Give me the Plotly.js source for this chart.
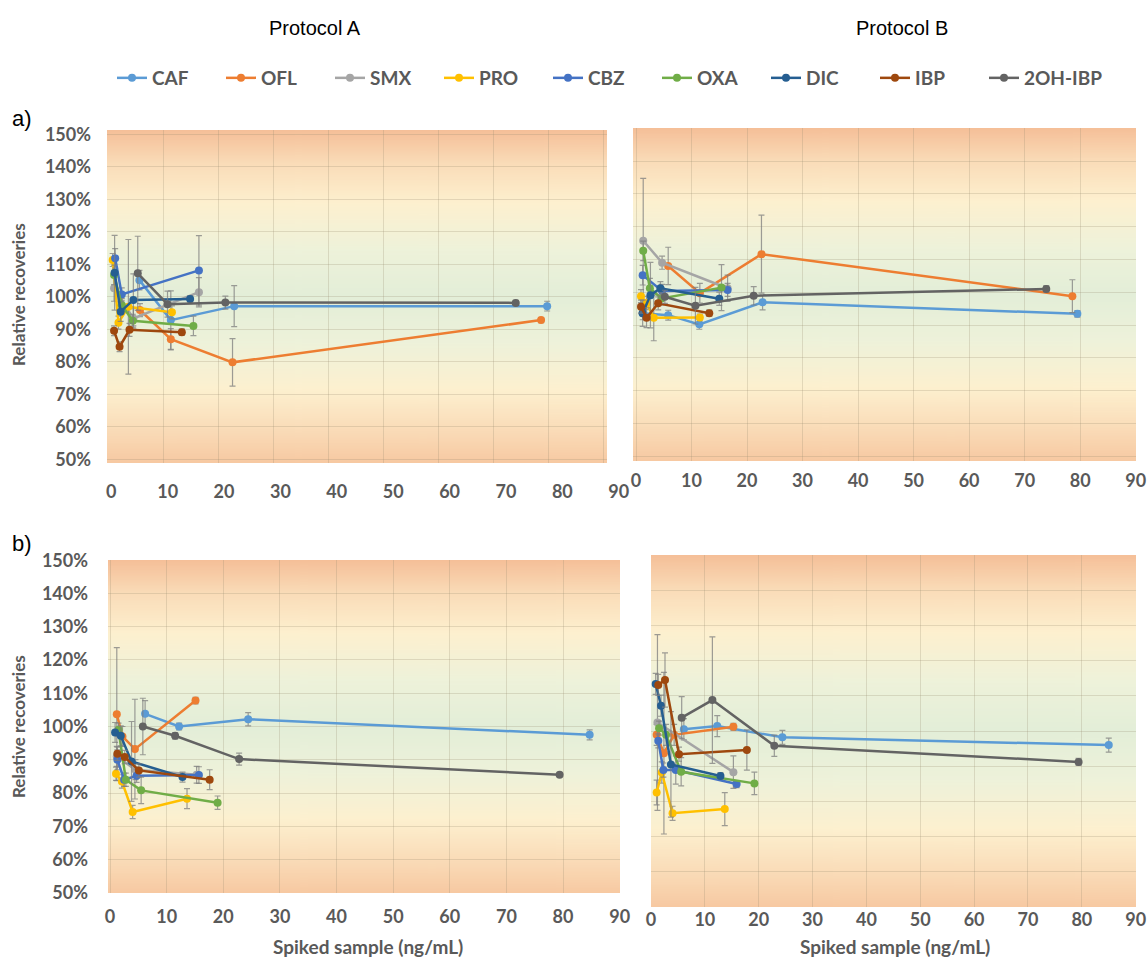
<!DOCTYPE html>
<html><head><meta charset="utf-8">
<script src="https://cdn.plot.ly/plotly-3.0.1.min.js"></script>
<style>html,body{margin:0;padding:0;background:#fff}#chart{width:1148px;height:958px}</style>
</head><body><div id="chart"></div>
<script>
// ---------- DATA ----------
const compounds = ['CAF','OFL','SMX','PRO','CBZ','OXA','DIC','IBP','2OH-IBP'];
const colors = ['#5B9BD5','#ED7D31','#A5A5A5','#FFC000','#4472C4','#70AD47','#255E91','#9E480E','#636363'];
const xTickVals = [0,10,20,30,40,50,60,70,80,90];
const yTickVals = [50,60,70,80,90,100,110,120,130,140,150];
const yTickText = ['50%','60%','70%','80%','90%','100%','110%','120%','130%','140%','150%'];

// a) Protocol A
const aA_x = [[5.7,11.4,22.9,79.7],[5.8,11.4,22.6,78.6],[1.1,4.6,16.5],[0.85,1.9,3.7,11.6],[1.3,2.5,16.5],[1.1,2.5,4.5,15.5],[1.2,2.3,4.6,14.9],[1.1,2.1,3.9,13.4],[5.4,10.8,21.3,74.0]];
const aA_y = [[105.1,92.8,97.1,97.1],[95.9,86.9,79.8,92.8],[102.6,93.3,101.4],[111.3,92.0,96.9,95.2],[111.8,100.7,108.1],[106.7,97.4,92.6,91.0],[107.4,95.4,99.0,99.3],[89.5,84.6,89.8,89.1],[107.2,97.7,98.2,98.1]];
const aA_err = [[3,9,6.3,1.5],[2,3.3,7.3,0.8],[4,3,4.5],[2,2,20.7,2],[3,2,10.7],[3,2,2,3],[11.5,3,8,1],[1.5,1.5,2,1],[11.4,4,2,0.8]];

// a) Protocol B
const aB_x = [[1.2,5.8,11.4,22.8,79.5],[5.8,11.5,22.6,78.6],[1.3,4.7,16.5],[0.9,1.9,3.2,11.5],[1.2,4.7,16.5],[1.3,2.5,4.6,15.4],[1.2,2.6,4.4,15.0],[0.9,1.9,4.0,13.2],[5.2,10.7,21.2,73.9]];
const aB_y = [[93.6,93.0,90.2,96.9,93.4],[108.0,99.7,111.6,98.8],[115.7,109.0,101.2],[98.8,96.7,92.2,92.3],[105.2,100.4,100.7],[112.6,101.2,98.1,101.4],[93.6,99.1,101.2,98.0],[95.6,92.2,96.6,93.6],[98.6,95.9,98.9,101.0]];
const aB_err = [[2,1.5,1.5,2.3,1],[5.7,3,11.9,5],[19,2,4],[2,2,7,1],[3,2,2],[3,3,2,7],[4,10,2,2],[2,3,2,1],[2,5.6,2.8,1]];

// b) Protocol A
const bA_x = [[6.2,12.2,24.4,84.7],[1.2,2.2,4.4,15.1],[1.2,4.5,15.3],[1.06,2.1,4.0,13.6],[1.3,2.5,4.7,15.7],[1.5,2.8,5.5,19.0],[0.9,1.9,3.8,12.8],[1.3,2.6,5.1,17.6],[5.8,11.5,22.8,79.4]];
const bA_y = [[103.8,100.0,102.2,97.5],[103.7,97.0,93.2,107.8],[91.0,87.0,85.5],[85.8,83.5,74.3,78.3],[90.0,84.0,85.2,85.4],[99.0,84.0,80.8,77.1],[98.2,97.2,89.5,84.8],[91.8,90.8,86.8,84.0],[100.0,97.2,90.2,85.5]];
const bA_err = [[4,1,2,1.5],[20,3,15,1],[3,3,2.5],[2,2,2,3],[3,2,2,2.5],[2,2,4,2],[3,3,12,1.5],[2,2,2,3],[8.5,1,1.8,0.5]];

// b) Protocol B
const bB_x = [[6.1,12.3,24.4,85.0],[1.05,2.4,4.3,15.3],[1.2,15.3],[1.05,2.0,4.0,13.7],[1.35,2.3,4.6,15.9],[1.5,2.8,5.6,19.2],[0.87,1.86,3.7,12.9],[1.35,2.6,5.2,17.8],[5.7,11.4,22.9,79.4]];
const bB_y = [[100.5,101.4,98.2,96.0],[98.9,93.7,98.9,101.2],[102.4,88.3],[82.5,88.2,76.6,77.8],[97.2,88.9,88.9,84.9],[100.8,98.9,88.4,85.1],[113.4,107.2,90.5,87.2],[113.1,114.5,93.4,94.6],[103.8,108.8,95.8,91.2]];
const bB_err = [[3,3,2,2],[3,23,3,1],[25,4.6],[3.5,3,2,4.7],[2,2,4,1],[2,3,4,3.2],[3,3,15,1],[3,7.7,2,5.7],[6,18,3,1]];

// ---------- LAYOUT GEOMETRY ----------
const W = 1148, H = 958;
const panels = [
  {X:aA_x, Y:aA_y, E:aA_err, box:[107,607,130,463], x0:108, xs:5.51, y100:296.7, ys:3.25, showY:true,  xStand:16, yStand:15, showXLab:false},
  {X:aB_x, Y:aB_y, E:aB_err, box:[633,1136,128,461], x0:636, xs:5.56, y100:292.2, ys:3.28, showY:false, xStand:7,  yStand:8,  showXLab:true},
  {X:bA_x, Y:bA_y, E:bA_err, box:[108,620,560,893], x0:110, xs:5.67, y100:726.7, ys:3.34, showY:true,  xStand:11, yStand:19, showXLab:true},
  {X:bB_x, Y:bB_y, E:bB_err, box:[651,1136,555,907], x0:651, xs:5.39, y100:731, ys:3.52, showY:false, xStand:0,  yStand:8,  showXLab:true}
];

function gradientURL(){
  const c = document.createElement('canvas'); c.width = 4; c.height = 400;
  const ctx = c.getContext('2d');
  const g = ctx.createLinearGradient(0,0,0,400);
  const st = [[0,'#F5BF98'],[0.1,'#FADCB8'],[0.22,'#FDF0CF'],[0.36,'#EEF2DA'],[0.5,'#E3EED8'],[0.64,'#EEF2DA'],[0.78,'#FDF0CF'],[0.9,'#FADCB8'],[1,'#F7C9A2']];
  st.forEach(s=>g.addColorStop(s[0],s[1]));
  ctx.fillStyle = g; ctx.fillRect(0,0,4,400);
  return c.toDataURL('image/png');
}
const grad = gradientURL();

const tickFont = {family:'Lato', size:18, color:'#595959', weight:700};
const gridColor = 'rgba(150,140,110,0.25)';
const layout = {
  width:W, height:H, margin:{l:0,r:0,t:0,b:0},
  paper_bgcolor:'#ffffff', plot_bgcolor:'rgba(0,0,0,0)',
  showlegend:true,
  legend:{orientation:'h', x:112/W, y:1-59/H, xanchor:'left', yanchor:'top',
          font:{family:'Lato', size:19, color:'#595959', weight:700},
          entrywidth:64, entrywidthmode:'pixels', bgcolor:'rgba(0,0,0,0)', itemwidth:30},
  images:[], annotations:[]
};
const traces = [];

panels.forEach((p,k)=>{
  const n = k===0 ? '' : String(k+1);
  const [bx0,bx1,by0,by1] = p.box;
  const xr = [(bx0-p.x0)/p.xs, Math.max(90.06,(bx1-p.x0)/p.xs)];
  const yr = [Math.min(49.94,100+(p.y100-by1)/p.ys), Math.max(150.06,100+(p.y100-by0)/p.ys)];
  layout['xaxis'+n] = {domain:[bx0/W,bx1/W], range:xr, anchor:'y'+n, tickvals:xTickVals,
    showgrid:true, gridcolor:gridColor, gridwidth:1, zeroline:false, showline:false, ticks:'',
    showticklabels:p.showXLab, tickfont:tickFont, ticklabelstandoff:p.xStand, fixedrange:true};
  layout['yaxis'+n] = {domain:[1-by1/H,1-by0/H], range:yr, anchor:'x'+n, tickvals:yTickVals, ticktext:yTickText,
    showgrid:true, gridcolor:gridColor, gridwidth:1, zeroline:false, showline:false, ticks:'',
    showticklabels:p.showY, tickfont:tickFont, ticklabelstandoff:p.yStand, fixedrange:true};
  layout.images.push({source:grad, xref:'x'+n+' domain', yref:'y'+n+' domain', x:0, y:1, sizex:1, sizey:1,
    xanchor:'left', yanchor:'top', sizing:'stretch', layer:'below'});
  compounds.forEach((c,i)=>{
    const tr = {type:'scatter', mode:'lines+markers', name:c, legendgroup:c, showlegend:k===0,
      x:p.X[i], y:p.Y[i], xaxis:'x'+n, yaxis:'y'+n,
      line:{color:colors[i], width:2.5}, marker:{color:colors[i], size:8},
      error_y:{type:'data', array:p.E[i], visible:true, color:'rgba(125,125,125,0.75)', thickness:1.2, width:3},
      hoverinfo:'skip'};
    if (i === compounds.length-1) tr.legendwidth = 95;
    traces.push(tr);
  });
});

// separate tick-label axis for panel a) Protocol A (its labels are spread wider than its grid)
layout.xaxis5 = {domain:[111/W,619/W], range:[-0.05,90.05], anchor:'y5', tickvals:xTickVals, showgrid:false, zeroline:false,
  showline:false, ticks:'', tickfont:tickFont, ticklabelstandoff:16, fixedrange:true};
layout.yaxis5 = {domain:[1-463/H,1-130/H], range:[0,1], anchor:'x5', visible:false, fixedrange:true};
traces.push({type:'scatter', x:[], y:[], xaxis:'x5', yaxis:'y5', showlegend:false, hoverinfo:'skip'});

function ann(text,x,y,font,extra){
  return Object.assign({text:text, xref:'paper', yref:'paper', x:x/W, y:1-y/H, showarrow:false,
    xanchor:'center', yanchor:'middle', font:font}, extra||{});
}
const titleFont = {family:'Liberation Sans', size:20, color:'#000'};
const axFont = {family:'Lato', size:19, color:'#595959', weight:700};
layout.annotations.push(ann('Protocol A',315,28,titleFont));
layout.annotations.push(ann('Protocol B',902,28,titleFont));
layout.annotations.push(ann('a)',22,118,{family:'Liberation Sans', size:22, color:'#000'}));
layout.annotations.push(ann('b)',22,543,{family:'Liberation Sans', size:22, color:'#000'}));
layout.annotations.push(ann('Relative recoveries',18,295,{family:'Lato', size:17, color:'#595959', weight:700},{textangle:-90}));
layout.annotations.push(ann('Relative recoveries',18,727,{family:'Lato', size:17, color:'#595959', weight:700},{textangle:-90}));
layout.annotations.push(ann('Spiked sample (ng/mL)',368,946,axFont));
layout.annotations.push(ann('Spiked sample (ng/mL)',895,946,axFont));

Plotly.newPlot('chart', traces, layout, {displayModeBar:false, staticPlot:true});
</script></body></html>
